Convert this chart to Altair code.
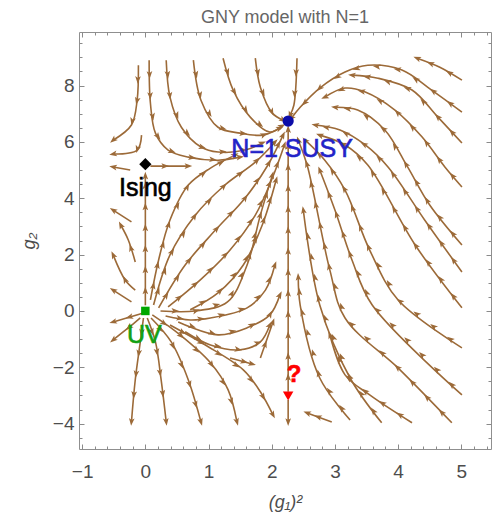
import math
import altair as alt
import pandas as pd

# ---------------- axes / frame ----------------
X_DOMAIN = [-1.05, 5.47]
Y_DOMAIN = [-4.9, 9.9]
PLOT_W, PLOT_H = 412, 417
X_MAJOR = [-1, 0, 1, 2, 3, 4, 5]
Y_MAJOR = [-4, -2, 0, 2, 4, 6, 8]
X_MINOR = [round(-1 + 0.2 * k, 1) for k in range(33) if (k % 5) != 0]
Y_MINOR = [round(-4.5 + 0.5 * k, 1) for k in range(29) if round(-4.5 + 0.5 * k, 1) not in Y_MAJOR]

TITLE = "GNY model with N=1"
X_TITLE = "(g\u2081)\u00b2"
Y_TITLE = "g\u2082"

# ---------------- fixed points ----------------
fp_names = ["Ising", "SUSY", "UV", "Q"]
fp_x = [0.0, 2.26, 0.0, 2.26]
fp_y = [5.21, 6.74, 0.0, -3.02]
fp_labels = ["Ising", "N=1 SUSY", "UV", "?"]

# ---------------- streamlines (traced; order = flow direction) ----------------
U1 = [(-0.11, 8.72), (-0.13, 7.48), (-0.22, 6.60), (-0.51, 6.06)]
U2 = [(-0.06, 6.24), (-0.13, 5.71), (-0.51, 5.57)]
U3 = [(0.06, 8.90), (0.08, 7.38), (0.16, 6.31), (0.36, 5.71), (0.68, 5.46), (1.15, 5.35), (1.50, 5.46)]
U4 = [(0.33, 8.90), (0.39, 7.59), (0.57, 6.52), (0.88, 5.82), (1.15, 5.64), (1.58, 5.71), (1.85, 5.96)]
U5 = [(0.76, 8.90), (0.88, 7.48), (1.15, 6.52), (1.50, 6.31), (1.86, 6.24), (2.13, 6.49)]
U6 = [(1.23, 8.97), (1.39, 7.84), (1.66, 6.88), (1.97, 6.35), (2.16, 6.56)]
U7 = [(1.74, 8.97), (1.82, 7.94), (2.01, 7.02), (2.18, 6.77)]
U8 = [(2.40, 8.97), (2.35, 7.30), (2.29, 6.95)]
U9 = [(-0.24, 5.00), (-0.51, 5.11)]
I1 = [(0.08, 5.14), (0.68, 5.14)]
LA = [(-0.22, 3.16), (-0.51, 3.58)]
LB = [(-0.16, 1.74), (-0.27, 2.52), (-0.39, 3.05)]
LC = [(-0.16, 0.74), (-0.32, 1.10), (-0.51, 1.99)]
LD = [(-0.22, 0.32), (-0.51, 0.74)]
M0 = [(0.0, 0.2), (0.0, 2.5), (0.0, 4.8)]
M1 = [(0.08, 0.39), (0.21, 1.81), (0.39, 3.23), (0.68, 4.47), (1.03, 5.07), (1.42, 5.53)]
M2 = [(0.13, 0.21), (0.39, 1.99), (0.79, 3.40), (1.26, 4.47), (1.74, 5.28), (2.05, 5.99)]
M3 = [(0.21, 0.11), (0.63, 1.63), (1.11, 2.87), (1.58, 4.01), (1.94, 5.18), (2.18, 6.24)]
M4 = [(0.36, 0.14), (0.87, 1.10), (1.34, 2.16), (1.74, 3.40), (2.01, 4.72), (2.20, 5.89)]
M5 = [(0.71, 0.04), (1.15, 0.64), (1.55, 1.63), (1.85, 3.05), (2.07, 4.65)]
M6 = [(0.24, 0.0), (0.79, 0.0), (1.30, 0.32), (1.61, 1.63), (1.82, 3.40), (2.01, 4.82)]
E1 = [(0.32, -0.18), (0.71, -0.32), (1.03, -0.25), (1.61, 0.11), (1.90, 0.74), (2.05, 1.63)]
E2 = [(0.52, -0.39), (1.15, -0.85), (1.61, -0.60), (1.97, -0.14), (2.13, 0.57)]
E3 = [(0.63, -0.74), (1.03, -1.21), (1.50, -1.38), (1.82, -1.10), (1.97, -0.50)]
E4 = [(1.82, -1.67), (2.02, -0.39)]
D1 = [(-0.03, -0.07), (-0.51, -0.39)]
D2 = [(-0.08, -0.25), (-0.27, -0.60), (-0.51, -1.03)]
D3 = [(-0.03, -0.25), (-0.08, -1.10), (-0.16, -2.45), (-0.22, -3.94)]
D4 = [(0.03, -0.25), (0.16, -1.10), (0.25, -2.45), (0.33, -3.94)]
D5 = [(0.09, -0.25), (0.41, -1.10), (0.68, -2.45), (0.88, -3.94)]
D6 = [(0.11, -0.14), (0.55, -0.85), (1.03, -1.84), (1.31, -2.80), (1.45, -3.94)]
D7 = [(0.39, -0.50), (0.95, -1.21), (1.55, -2.09), (1.82, -2.87), (2.02, -3.69)]
D8 = [(1.34, -1.67), (1.69, -1.88)]
V1 = [(2.26, -2.87), (2.26, 6.45)]
V2 = [(2.26, -3.16), (2.26, -3.94)]
R1 = [(5.01, 8.19), (4.66, 8.65), (4.30, 8.97)]
R2 = [(5.01, 7.06), (4.53, 7.84), (4.06, 8.55), (3.52, 8.72), (3.16, 8.48), (2.76, 7.91), (2.45, 7.23), (2.31, 6.84)]
R3 = [(5.01, 5.96), (4.63, 6.88), (4.22, 7.84), (3.68, 8.26), (3.27, 8.37)]
R4 = [(5.01, 4.40), (4.74, 5.11), (4.38, 6.17), (3.95, 7.13), (3.48, 7.77), (3.16, 7.91), (2.84, 7.59)]
R5 = [(5.01, 2.34), (4.50, 3.76), (4.15, 5.11), (3.79, 6.42), (3.36, 7.13), (3.00, 7.23)]
R6 = [(5.01, 1.38), (4.42, 3.23), (3.84, 5.11), (3.48, 5.89), (3.08, 6.42), (2.69, 6.60)]
R7 = [(5.01, 0.11), (4.27, 2.34), (3.52, 5.18), (3.16, 5.89), (2.76, 6.24)]
R8 = [(5.01, -1.31), (4.00, 0.39), (3.55, 2.16), (3.16, 4.29), (2.84, 5.35), (2.53, 6.06)]
R9 = [(5.01, -2.98), (3.59, 0.21), (3.27, 1.81), (3.00, 3.58), (2.76, 5.00)]
R10 = [(4.85, -3.97), (4.03, -2.09), (3.16, -0.25), (2.92, 1.45), (2.56, 5.18), (2.42, 6.06)]
R11 = [(4.22, -3.97), (3.55, -2.98), (3.16, -2.27), (2.92, -0.85)]
R12 = [(3.74, -3.97), (3.24, -2.38), (2.76, 0.21), (2.50, 3.58)]
R13 = [(3.24, -3.87), (2.76, -2.38), (2.45, 0.21), (2.42, 1.21)]
R14 = [(2.95, -3.94), (2.56, -3.62)]

STREAMLINES = [U1, U2, U3, U4, U5, U6, U7, U8, U9, I1, LA, LB, LC, LD,
               M0, M1, M2, M3, M4, M5, M6, E1, E2, E3, E4,
               D1, D2, D3, D4, D5, D6, D7, D8, V1, V2,
               R1, R2, R3, R4, R5, R6, R7, R8, R9, R10, R11, R12, R13, R14]

STREAM_COLOR = "#9c6a38"
FONT = "Liberation Sans"
LABEL_COLOR = "#4d4d4d"
TICK_COLOR = "#8a8a8a"
ARROW_PATH = "M0,-1L0.72,0.95L0,0.5L-0.72,0.95Z"

# ---------------- build tables ----------------
sx = PLOT_W / (X_DOMAIN[1] - X_DOMAIN[0])
sy = PLOT_H / (Y_DOMAIN[1] - Y_DOMAIN[0])

line_rows = []
arrow_rows = []
ARROW_STEP = 21.0
for li, pts in enumerate(STREAMLINES):
    for i, (x, y) in enumerate(pts):
        line_rows.append({"line": li, "i": i, "x": x, "y": y})
    segs = []
    for (x0, y0), (x1, y1) in zip(pts[:-1], pts[1:]):
        L = math.hypot((x1 - x0) * sx, (y1 - y0) * sy)
        segs.append((x0, y0, x1, y1, L))
    total = sum(s[4] for s in segs)
    spots = []
    d = ARROW_STEP * 0.7
    while d < total - 8:
        spots.append(d)
        d += ARROW_STEP
    spots.append(total - 0.01)
    for s in spots:
        acc = 0.0
        for k, (x0, y0, x1, y1, L) in enumerate(segs):
            if acc + L >= s or k == len(segs) - 1:
                t = 0.0 if L == 0 else min(1.0, (s - acc) / L)
                ang = math.degrees(math.atan2((x1 - x0) * sx, (y1 - y0) * sy)) % 360
                arrow_rows.append({"x": x0 + t * (x1 - x0), "y": y0 + t * (y1 - y0), "angle": ang})
                break
            acc += L

lines_df = pd.DataFrame(line_rows)
arrows_df = pd.DataFrame(arrow_rows)
fp_df = pd.DataFrame({"name": fp_names, "x": fp_x, "y": fp_y, "label": fp_labels})

xs = alt.Scale(domain=X_DOMAIN, nice=False, zero=False)
ys = alt.Scale(domain=Y_DOMAIN, nice=False, zero=False)

x_main = alt.X("x:Q", scale=xs, title=X_TITLE, axis=alt.Axis(
    orient="bottom", values=X_MAJOR, format="d", offset=-5, tickSize=5, domain=False, grid=False,
    labelPadding=13, labelFontSize=19, labelFont=FONT, labelColor=LABEL_COLOR, tickColor=TICK_COLOR,
    titleFont=FONT, titleFontSize=18, titleFontStyle="italic", titleFontWeight="normal",
    titleColor=LABEL_COLOR, titlePadding=12))
y_main = alt.Y("y:Q", scale=ys, title=Y_TITLE, axis=alt.Axis(
    orient="left", values=Y_MAJOR, format="d", offset=-5, tickSize=5, domain=False, grid=False,
    labelPadding=5, labelFontSize=19, labelFont=FONT, labelColor=LABEL_COLOR, tickColor=TICK_COLOR,
    titleFont=FONT, titleFontSize=18, titleFontStyle="italic", titleFontWeight="normal",
    titleColor=LABEL_COLOR, titlePadding=14))

lines = alt.Chart(lines_df).mark_line(color=STREAM_COLOR, strokeWidth=1.6, interpolate="catmull-rom").encode(
    x=x_main, y=y_main, detail="line:N", order="i:Q")
arrows = alt.Chart(arrows_df).mark_point(shape=ARROW_PATH, filled=True, size=62, color=STREAM_COLOR,
                                        opacity=1, strokeWidth=0).encode(
    x=x_main, y=y_main, angle=alt.Angle("angle:Q", scale=None))


def fp_layer(name, **kw):
    return alt.Chart(fp_df).transform_filter(alt.datum.name == name).mark_point(
        filled=True, opacity=1, strokeWidth=0, **kw).encode(x=x_main, y=y_main)


def fp_text(name, color, **kw):
    return alt.Chart(fp_df).transform_filter(alt.datum.name == name).mark_text(
        font=FONT, baseline="alphabetic", align="center", color=color, stroke=color,
        strokeWidth=0.6, **kw).encode(x=x_main, y=y_main, text="label:N")


marks = [
    fp_layer("Ising", shape="diamond", size=150, color="black"),
    fp_layer("SUSY", shape="circle", size=125, color="#0c0ca8"),
    fp_layer("UV", shape="square", size=72, color="#00a800"),
    fp_layer("Q", shape="triangle-down", size=110, color="#ff0000"),
    fp_text("Ising", "black", fontSize=25, dy=32),
    fp_text("SUSY", "#2323c8", fontSize=25, dx=4, dy=36),
    fp_text("UV", "#12a012", fontSize=25, dy=32, dx=-1),
    fp_text("Q", "#ff0000", fontSize=24, fontWeight="bold", dx=6, dy=-14),
]

content = alt.layer(lines, arrows, *marks)

dummy = pd.DataFrame({"x": [0.0], "y": [0.0]})


def axis_layer(xorient, yorient, xvals, yvals, size):
    return alt.Chart(dummy).mark_point(opacity=0).encode(
        x=alt.X("x:Q", scale=xs, title=None, axis=alt.Axis(
            orient=xorient, values=xvals, labels=False, offset=-size, tickSize=size,
            domain=False, grid=False, tickColor=TICK_COLOR)),
        y=alt.Y("y:Q", scale=ys, title=None, axis=alt.Axis(
            orient=yorient, values=yvals, labels=False, offset=-size, tickSize=size,
            domain=False, grid=False, tickColor=TICK_COLOR)))


chart = alt.layer(
    content,
    axis_layer("bottom", "left", X_MINOR, Y_MINOR, 3),
    axis_layer("top", "right", X_MAJOR, Y_MAJOR, 5),
    axis_layer("top", "right", X_MINOR, Y_MINOR, 3),
).resolve_scale(x="independent", y="independent").properties(
    width=PLOT_W, height=PLOT_H,
    title=alt.TitleParams(TITLE, font=FONT, fontSize=18, fontWeight="normal", color="#666666",
                          anchor="middle", offset=5),
    autosize=alt.AutoSizeParams(type="none"),
    padding={"left": 79, "top": 32, "right": 11, "bottom": 70},
).configure_view(stroke="#8f8f8f", strokeWidth=1)

chart.save("out.html", embed_options={"renderer": "svg", "actions": False})
